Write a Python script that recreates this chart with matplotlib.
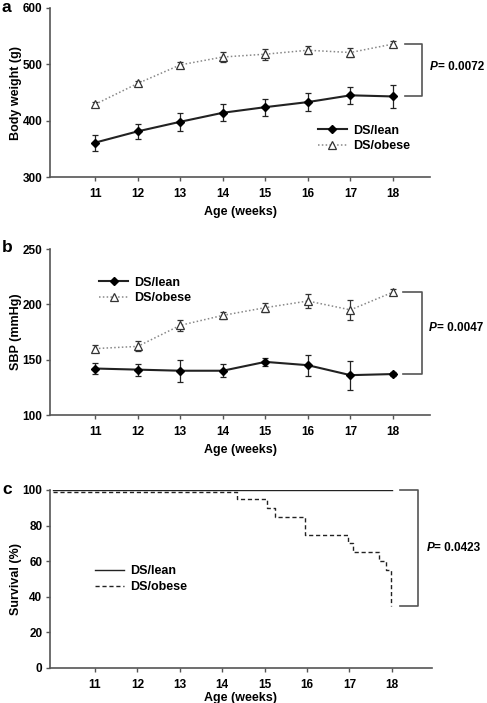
import matplotlib
matplotlib.use("Agg")
import matplotlib.pyplot as plt
from matplotlib.lines import Line2D

plt.rcParams['font.family'] = ['Liberation Sans', 'DejaVu Sans']
plt.rcParams['font.weight'] = 'bold'

weeks = [11, 12, 13, 14, 15, 16, 17, 18]

# Panel a: body weight (g)
bw_lean = [361, 381, 398, 414, 424, 433, 445, 443]
bw_lean_err = [14, 13, 16, 15, 15, 16, 15, 21]
bw_obese = [429, 466, 499, 513, 518, 525, 521, 536]
bw_obese_err = [5, 5, 5, 9, 10, 7, 8, 6]

# Panel b: SBP (mmHg)
sbp_lean = [142, 141, 140, 140, 148, 145, 136, 137]
sbp_lean_err = [5, 5.5, 10, 6, 3.5, 9.5, 13, 2]
sbp_obese = [160, 162, 181, 190, 197, 203, 195, 211]
sbp_obese_err = [3, 4.5, 5, 3, 4, 6, 9, 3]

# Panel c: survival (%)
surv_lean_t = [10, 18]
surv_lean = [100, 100]
surv_obese_t = [10, 14.35, 15.05, 15.25, 15.96, 16.98, 17.08, 17.69, 17.86, 17.98]
surv_obese = [99, 95, 90, 85, 75, 70, 65, 60, 55, 35]

labels = ['DS/lean', 'DS/obese']
pvals = ['0.0072', '0.0047', '0.0423']

W, H = 487, 703
fig = plt.figure(figsize=(W / 100, H / 100), dpi=100)

def axes_px(left, right, top, bottom):
    return fig.add_axes([left / W, 1 - bottom / H, (right - left) / W, (bottom - top) / H])

axa = axes_px(50, 430, 8, 177)
axb = axes_px(50, 430, 249, 415)
axc = axes_px(50, 432, 490, 668)

spine_col = '#555555'
FS = 8.5

lean_style = dict(color='#222222', ls='-', lw=1.5, marker='D', mfc='black', mec='black', ms=4.5)
obese_style = dict(color='#888888', ls=(0, (1, 1.5)), lw=1.1, marker='^', mfc='white',
                   mec='#333333', ms=6, mew=0.9)

def style(ax):
    for s in ['top', 'right']:
        ax.spines[s].set_visible(False)
    for s in ['left', 'bottom']:
        ax.spines[s].set_color(spine_col)
        ax.spines[s].set_linewidth(1.2)
    ax.tick_params(axis='both', colors=spine_col, length=3, width=1, labelsize=FS, labelcolor='black')
    ax.tick_params(axis='x', pad=5)
    ax.tick_params(axis='y', pad=2.5)
    for t in ax.get_xticklabels() + ax.get_yticklabels():
        t.set_fontweight('bold')
    ax.set_xlabel('Age (weeks)', fontsize=FS + 0.5, fontweight='bold', labelpad=4)

def err_plot(ax, lean, lean_err, obese, obese_err):
    ax.errorbar(weeks, obese, yerr=obese_err, ecolor='#333333', elinewidth=0.9, capsize=2.5,
                capthick=0.9, **obese_style)
    ax.errorbar(weeks, lean, yerr=lean_err, ecolor='#222222', elinewidth=0.9, capsize=2.5,
                capthick=0.9, **lean_style)

def bracket(ax, x0, x1, ytop, ybot, ptxt, tx, ty):
    ax.plot([x0, x1, x1, x0], [ytop, ytop, ybot, ybot], color='#555555', lw=1.2, clip_on=False)
    ax.annotate('P', xy=(tx, ty), xycoords='data', fontsize=FS, fontweight='bold',
                fontstyle='italic', va='center', ha='left', annotation_clip=False)
    ax.annotate('= ' + ptxt, xy=(tx, ty), xycoords='data', xytext=(5.6, 0), textcoords='offset points',
                fontsize=FS, fontweight='bold', va='center', ha='left', annotation_clip=False)

def legend(ax, x, y, handles):
    ax.legend(handles, labels, loc='center left',
              bbox_to_anchor=(x, y), frameon=False, borderpad=0, borderaxespad=0,
              handlelength=2.3, handletextpad=0.5, labelspacing=0.3,
              prop={'weight': 'bold', 'size': FS + 0.5})

err_handles = [Line2D([], [], **lean_style), Line2D([], [], **obese_style)]

# ---- Panel a
err_plot(axa, bw_lean, bw_lean_err, bw_obese, bw_obese_err)
axa.set_xlim(9.94, 18.87)
axa.set_ylim(300, 600)
axa.set_yticks([300, 400, 500, 600])
axa.set_xticks(weeks)
axa.set_ylabel('Body weight (g)', fontsize=FS + 0.5, fontweight='bold', labelpad=0)
style(axa)
legend(axa, 0.705, 0.228, err_handles)
bracket(axa, 18.28, 18.68, bw_obese[-1], bw_lean[-1], pvals[0], 18.87, 496)

# ---- Panel b
err_plot(axb, sbp_lean, sbp_lean_err, sbp_obese, sbp_obese_err)
axb.set_xlim(9.94, 18.87)
axb.set_ylim(100, 250)
axb.set_yticks([100, 150, 200, 250])
axb.set_xticks(weeks)
axb.set_ylabel('SBP (mmHg)', fontsize=FS + 0.5, fontweight='bold', labelpad=0)
style(axb)
legend(axb, 0.13, 0.75, err_handles)
bracket(axb, 18.23, 18.68, sbp_obese[-1], sbp_lean[-1], pvals[1], 18.85, 179)

# ---- Panel c
lc, = axc.plot(surv_lean_t, surv_lean, color='#222222', lw=1.0, drawstyle='steps-post')
oc, = axc.plot(surv_obese_t, surv_obese, color='#222222', lw=1.0, ls=(0, (3, 2)), drawstyle='steps-post')
axc.set_xlim(9.94, 18.95)
axc.set_ylim(0, 100)
axc.set_yticks([0, 20, 40, 60, 80, 100])
axc.set_xticks(weeks)
axc.set_ylabel('Survival (%)', fontsize=FS + 0.5, fontweight='bold', labelpad=0)
style(axc)
axc.xaxis.labelpad = 1
legend(axc, 0.118, 0.5, [lc, oc])
bracket(axc, 18.2, 18.62, max(surv_lean), min(surv_obese), pvals[2], 18.82, 67.4)

# panel letters
for letter, y in [('a', 8), ('b', 248), ('c', 489)]:
    fig.text(2 / W, 1 - y / H, letter, fontsize=12.5, fontweight='bold', va='center', ha='left')

fig.savefig('out.png', dpi=100)
